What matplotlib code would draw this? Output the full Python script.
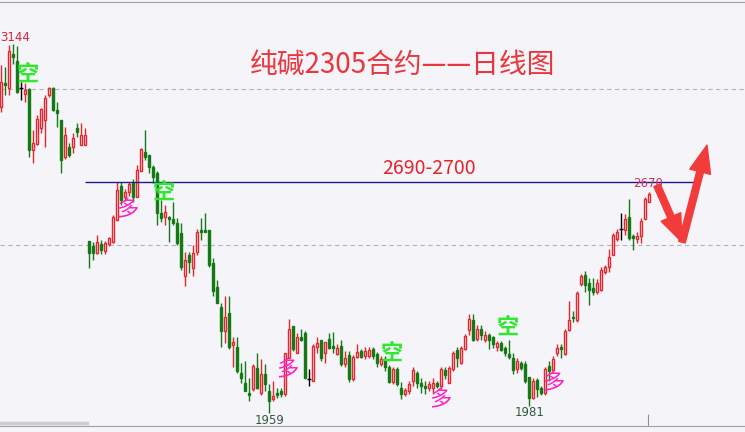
import matplotlib
matplotlib.use("Agg")
import matplotlib.pyplot as plt

plt.rcParams['font.family'] = ['Noto Sans CJK SC', 'DejaVu Sans']

# 纯碱2305 日线 OHLC
opens = [2942, 3019, 3003, 3112, 3090, 3003, 2984, 3000, 2804, 2823, 2875, 2900, 2981, 3003, 2932, 2900,
         2781, 2814, 2814, 2875, 2820, 2820, 2511, 2495, 2473, 2502, 2479, 2502, 2508, 2579, 2688, 2653,
         2669, 2697, 2653, 2736, 2797, 2788, 2749, 2730, 2601, 2588, 2588, 2582, 2569, 2537, 2399, 2466,
         2424, 2476, 2546, 2546, 2546, 2441, 2364, 2300, 2222, 2280, 2177, 2170, 2087, 2054, 2022, 2035,
         2103, 2022, 2083, 2029, 2003, 2022, 2029, 2019, 2135, 2238, 2151, 2203, 2215, 2067, 2061, 2170,
         2193, 2151, 2196, 2173, 2148, 2173, 2116, 2145, 2067, 2138, 2157, 2141, 2141, 2164, 2148, 2116,
         2132, 2106, 2058, 2100, 2038, 2019, 2029, 2061, 2087, 2054, 2045, 2038, 2038, 2054, 2045, 2096,
         2054, 2100, 2160, 2119, 2164, 2225, 2257, 2196, 2228, 2193, 2209, 2202, 2170, 2183, 2167, 2148,
         2135, 2100, 2119, 2116, 2074, 2006, 2064, 2038, 2022, 2109, 2096, 2151, 2170, 2148, 2225, 2267,
         2257, 2373, 2402, 2376, 2360, 2347, 2354, 2412, 2428, 2466, 2518, 2550, 2546, 2588, 2527, 2518,
         2527, 2582, 2636]
highs = [3077, 3071, 3141, 3144, 3138, 3023, 3019, 3003, 2868, 2916, 2939, 2981, 3006, 3006, 2958, 2900,
         2878, 2826, 2859, 2891, 2891, 2875, 2511, 2508, 2530, 2514, 2511, 2524, 2595, 2700, 2700, 2678,
         2700, 2710, 2755, 2810, 2868, 2788, 2755, 2736, 2643, 2627, 2592, 2637, 2585, 2569, 2476, 2476,
         2498, 2550, 2585, 2601, 2546, 2457, 2386, 2312, 2335, 2335, 2203, 2203, 2119, 2125, 2071, 2116,
         2151, 2132, 2116, 2051, 2061, 2038, 2038, 2151, 2260, 2238, 2215, 2228, 2222, 2100, 2180, 2203,
         2193, 2186, 2215, 2218, 2180, 2193, 2157, 2157, 2145, 2180, 2164, 2170, 2170, 2170, 2154, 2141,
         2141, 2112, 2106, 2106, 2058, 2038, 2061, 2106, 2093, 2071, 2061, 2061, 2071, 2061, 2106, 2106,
         2109, 2157, 2170, 2173, 2212, 2276, 2276, 2241, 2241, 2222, 2215, 2206, 2190, 2190, 2173, 2193,
         2151, 2135, 2125, 2125, 2074, 2071, 2071, 2045, 2106, 2125, 2141, 2180, 2180, 2228, 2318, 2286,
         2351, 2405, 2415, 2392, 2392, 2389, 2428, 2434, 2486, 2537, 2550, 2601, 2598, 2646, 2534, 2540,
         2585, 2653, 2670]
lows = [2926, 2981, 2981, 3080, 2988, 2965, 2958, 2782, 2762, 2820, 2859, 2814, 2975, 2930, 2878, 2730,
        2775, 2781, 2794, 2846, 2820, 2820, 2424, 2450, 2469, 2469, 2469, 2495, 2505, 2579, 2627, 2640,
        2656, 2636, 2653, 2736, 2772, 2730, 2697, 2563, 2572, 2563, 2508, 2563, 2498, 2420, 2367, 2408,
        2399, 2466, 2514, 2540, 2428, 2335, 2312, 2170, 2183, 2164, 2106, 2087, 2054, 2029, 1997, 2029,
        2035, 2016, 2029, 1959, 1997, 2006, 2010, 2013, 2135, 2157, 2151, 2190, 2071, 2045, 2061, 2151,
        2125, 2119, 2164, 2151, 2145, 2109, 2106, 2058, 2061, 2135, 2135, 2132, 2135, 2132, 2106, 2109,
        2093, 2054, 2051, 2045, 2003, 2013, 2019, 2045, 2038, 2022, 2019, 2029, 2019, 2038, 2035, 2067,
        2054, 2093, 2106, 2116, 2160, 2209, 2190, 2190, 2193, 2186, 2164, 2167, 2157, 2157, 2141, 2132,
        2084, 2087, 2096, 2054, 1981, 2003, 2010, 2016, 2016, 2061, 2093, 2141, 2135, 2145, 2222, 2251,
        2251, 2367, 2347, 2306, 2338, 2341, 2351, 2405, 2412, 2466, 2511, 2514, 2530, 2514, 2482, 2505,
        2505, 2582, 2636]
closes = [3023, 3013, 3122, 3102, 2990, 3003, 2997, 2804, 2826, 2903, 2936, 2971, 3003, 2932, 2923, 2772,
          2852, 2788, 2843, 2862, 2852, 2852, 2473, 2473, 2508, 2482, 2505, 2521, 2588, 2675, 2643, 2669,
          2694, 2653, 2739, 2807, 2781, 2749, 2717, 2601, 2585, 2604, 2582, 2569, 2505, 2428, 2450, 2444,
          2473, 2540, 2540, 2540, 2434, 2351, 2312, 2222, 2267, 2170, 2186, 2093, 2070, 2029, 2016, 2109,
          2038, 2083, 2051, 1997, 2013, 2016, 2019, 2151, 2228, 2164, 2203, 2193, 2071, 2067, 2174, 2183,
          2135, 2186, 2167, 2167, 2167, 2116, 2135, 2067, 2138, 2154, 2138, 2157, 2160, 2141, 2119, 2132,
          2106, 2058, 2100, 2051, 2019, 2032, 2051, 2096, 2054, 2045, 2038, 2051, 2054, 2045, 2100, 2080,
          2103, 2151, 2135, 2167, 2206, 2260, 2193, 2228, 2209, 2209, 2193, 2180, 2183, 2160, 2151, 2138,
          2096, 2125, 2103, 2061, 2006, 2061, 2035, 2022, 2100, 2093, 2132, 2167, 2164, 2222, 2257, 2264,
          2344, 2399, 2370, 2354, 2347, 2376, 2418, 2428, 2460, 2531, 2540, 2550, 2582, 2521, 2521, 2527,
          2575, 2646, 2662]

# annotations: (candle index, price)
kong_marks = [(6.75, 3048), (40.75, 2669), (97.75, 2151), (126.75, 2235)]
duo_marks = [(31.5, 2611), (71.5, 2097), (109.75, 2000), (138, 2055)]
resistance = 2700
forecast = [(164, 2691), (170.25, 2508), (176.5, 2820)]

bg = '#f4f4f9'
red = '#e3262d'
green = '#157a15'

fig = plt.figure(figsize=(7.45, 4.32), dpi=100)
fig.patch.set_facecolor(bg)
ax = fig.add_axes([0, 6 / 432, 1, 424 / 432])
ax.set_facecolor(bg)

n = len(opens)
xs = list(range(n))
for i in xs:
    o, h, l, c = opens[i], highs[i], lows[i], closes[i]
    if c > o:
        ax.vlines(i, l, h, color=red, lw=1, zorder=2)
        ax.bar(i, c - o, bottom=o, width=0.62, facecolor=bg, edgecolor=red, lw=1, zorder=3)
    elif c < o:
        ax.vlines(i, l, h, color=green, lw=1, zorder=2)
        ax.bar(i, o - c, bottom=c, width=0.62, facecolor=green, edgecolor=green, lw=1, zorder=3)
    else:
        ax.vlines(i, l, h, color='black', lw=1, zorder=2)
        ax.hlines(o, i - 0.45, i + 0.45, color='black', lw=1, zorder=3)

ax.set_xlim(-0.25, 186)
ax.set_ylim(1917, 3280)

ax.set_yticks([2500, 3000])
ax.grid(axis='y', ls=(0, (4, 3)), color='#b4b4b4', lw=0.8)
ax.tick_params(axis='y', left=False, labelleft=False)
ax.set_xticks([161.75])
ax.tick_params(axis='x', direction='in', length=9, color='#909090', labelbottom=False)
for s in ['left', 'right']:
    ax.spines[s].set_visible(False)
for s in ['top', 'bottom']:
    ax.spines[s].set_color('#a0a0a0')
ax.plot([0, 87 / 745], [0.008, 0.008], transform=ax.transAxes, lw=2.5, color='#cdcdcd', clip_on=False)

ax.hlines(resistance, 21, 174.75, color='#1c1c8a', lw=1, zorder=4)
ax.text(107, 2746, '2690-2700', color=red, fontsize=14, ha='center', va='center')

ax.text(100.5, 3077, '纯碱2305合约——日线图', color='#e8383d', fontsize=20, ha='center', va='center')

lab = dict(family='DejaVu Sans', fontsize=8.5, ha='center', va='center')
ax.text(-0.25, 3167, '3144', color='#d42535', **{**lab, 'ha': 'left'})
ax.text(67.25, 1936, '1959', color='#2f5a3c', **lab)
ax.text(132.25, 1959, '1981', color='#2f5a3c', **lab)
ax.text(161.75, 2698, '2670', color='#d4305a', zorder=5, **lab)

for x, y in kong_marks:
    ax.text(x, y, '空', color='#2fe82f', fontsize=16, fontweight='bold', ha='center', va='center', zorder=5)
for x, y in duo_marks:
    ax.text(x, y, '多', color='#ff22c4', fontsize=16, ha='center', va='center', zorder=5)

for a, b in zip(forecast[:-1], forecast[1:]):
    ax.annotate('', xy=b, xytext=a,
                arrowprops=dict(arrowstyle='simple,head_length=0.9,head_width=0.7,tail_width=0.22',
                                color='#f23b3b', shrinkA=0, shrinkB=0, mutation_scale=22),
                zorder=6)

plt.savefig('out.png', dpi=100, facecolor=bg)
